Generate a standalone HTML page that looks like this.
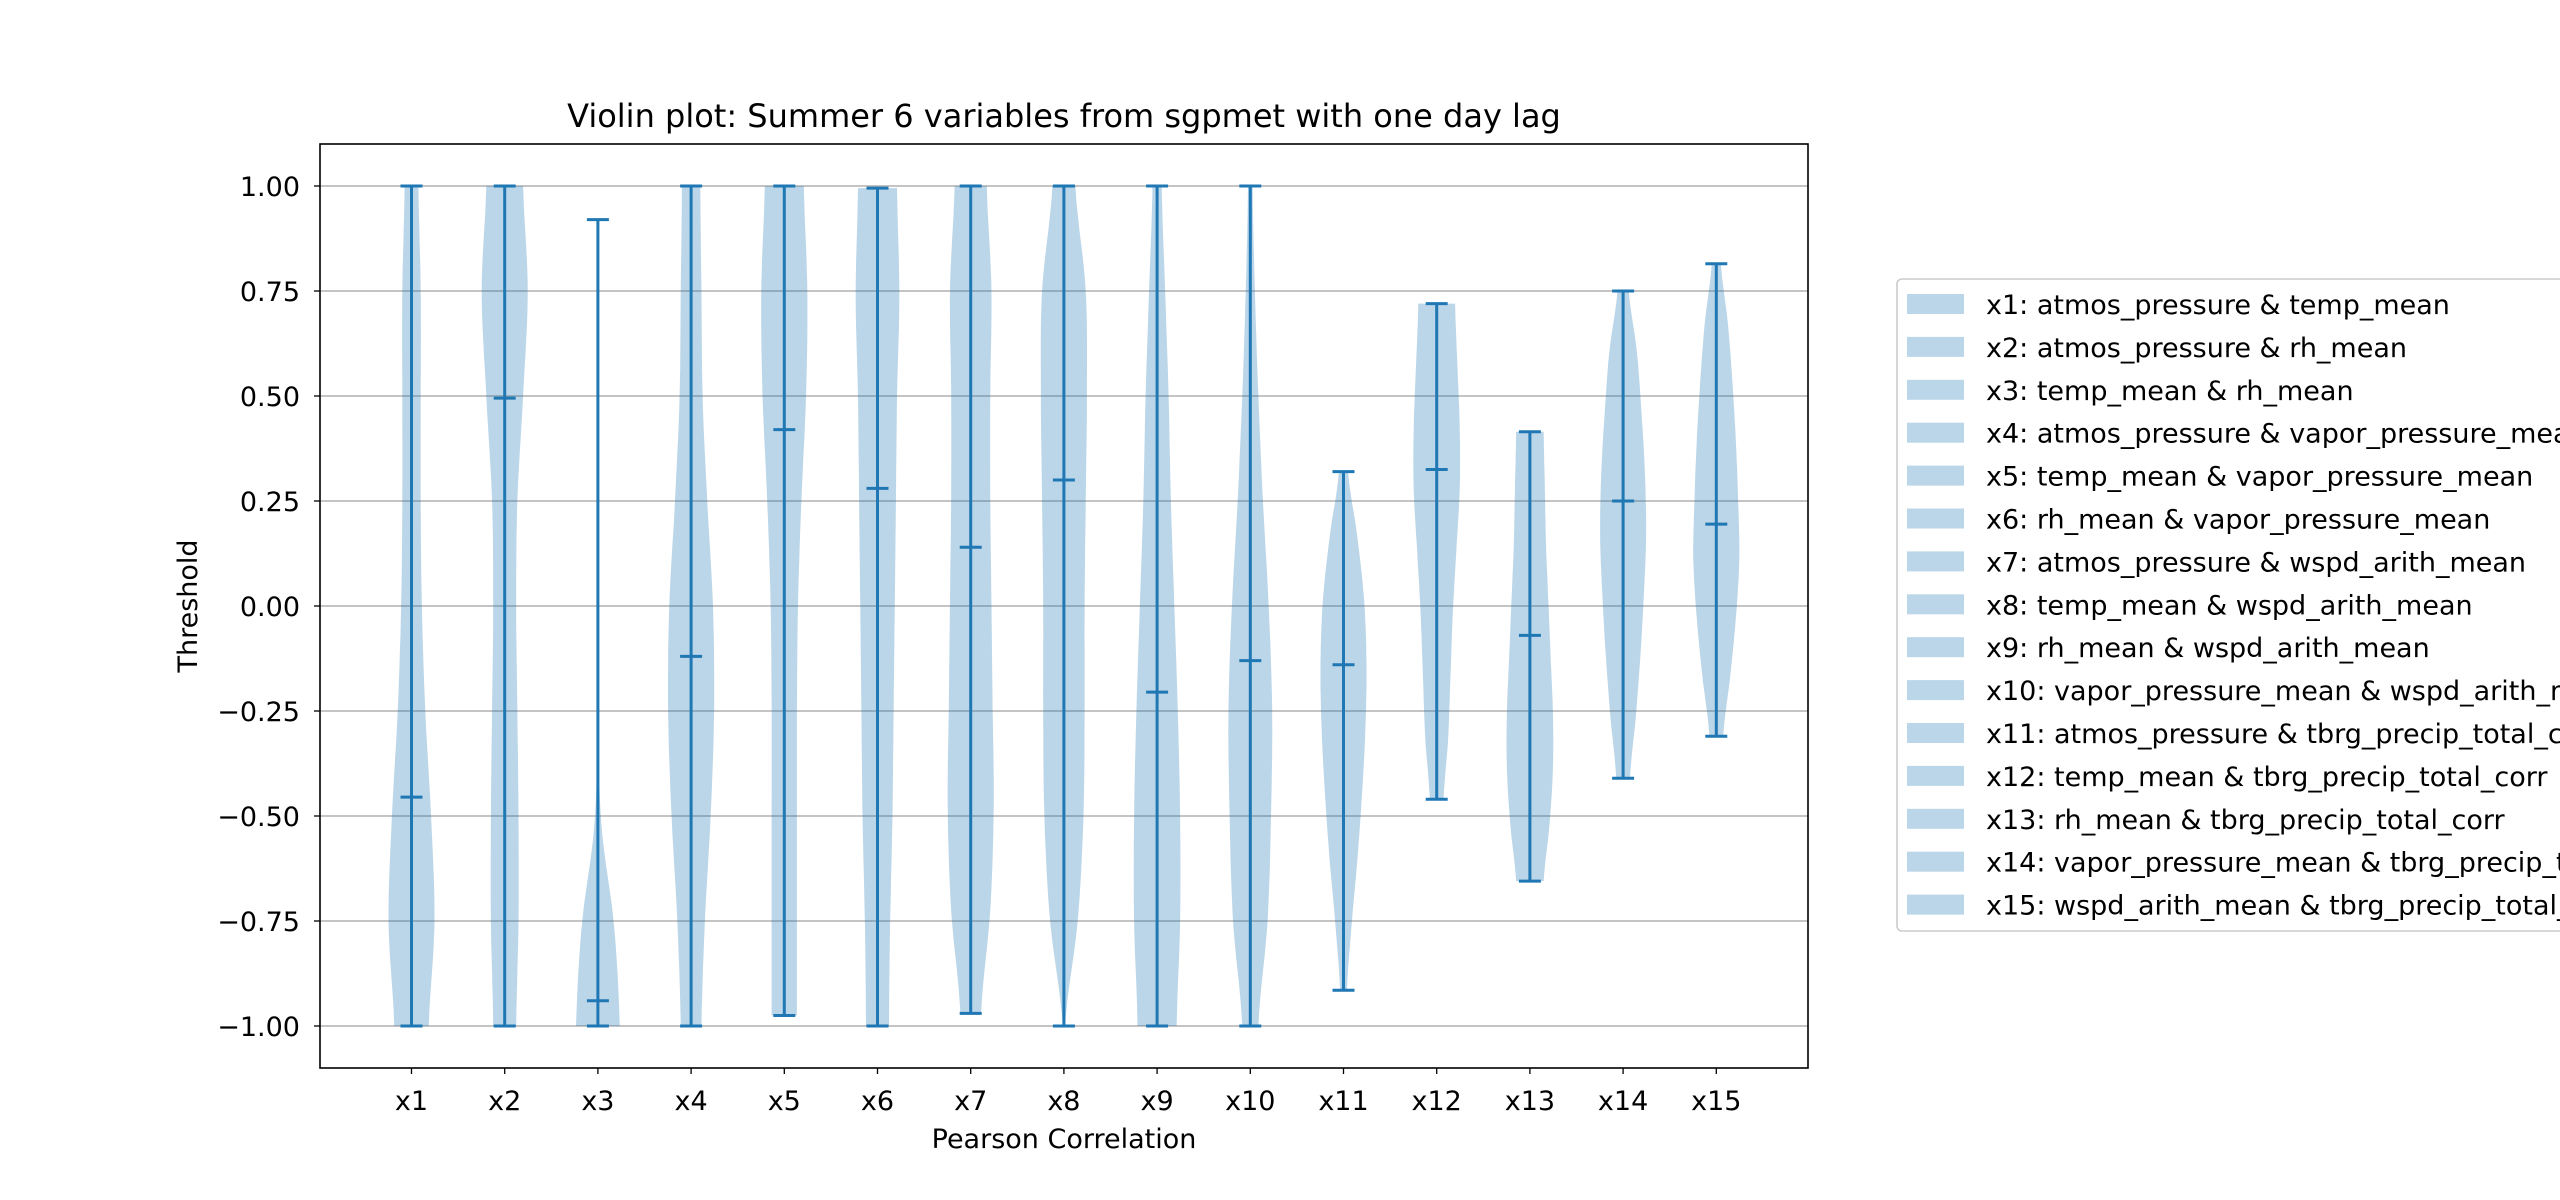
<!DOCTYPE html>
<html><head><meta charset="utf-8"><style>
body{margin:0;background:#fff;}
svg{display:block;font-family:"DejaVu Sans","Liberation Sans",sans-serif;}
</style></head><body>
<svg id="chart" width="2560" height="1200" xmlns="http://www.w3.org/2000/svg">
<rect width="2560" height="1200" fill="#fff"/>
<g id="grid"></g><g id="violins"></g><g id="axes"></g><g id="legend"></g>
</svg>
<script>
const categories=["x1","x2","x3","x4","x5","x6","x7","x8","x9","x10","x11","x12","x13","x14","x15"];
const mins=[-1,-1,-1,-1,-0.975,-1,-0.97,-1,-1,-1,-0.915,-0.46,-0.655,-0.41,-0.31];
const maxs=[1,1,0.92,1,1,0.995,1,1,1,1,0.32,0.72,0.415,0.75,0.815];
const medians=[-0.455,0.495,-0.94,-0.12,0.42,0.28,0.14,0.30,-0.205,-0.13,-0.14,0.325,-0.07,0.25,0.195];
const profiles=[
[0.75,1.0,0.85,0.6,0.45,0.4,0.4,0.4,0.3],
[0.5,0.6,0.6,0.55,0.5,0.55,0.8,1.0,0.8],
[0.95,0.7,0.15,0.03,0.01,0,0,0,0],
[0.45,0.6,0.85,1.0,0.95,0.7,0.5,0.45,0.4],
[0.55,0.55,0.55,0.55,0.6,0.75,0.95,1.0,0.85],
[0.5,0.55,0.65,0.7,0.75,0.8,0.85,0.95,0.85],
[0.45,0.85,1.0,0.95,0.9,0.85,0.85,0.9,0.7],
[0.05,0.6,0.85,0.9,0.9,0.95,1.0,0.95,0.5],
[0.85,1.0,1.0,0.9,0.75,0.6,0.5,0.35,0.2],
[0.35,0.75,0.9,0.95,0.8,0.55,0.35,0.2,0.1],
[0.15,0.35,0.6,0.8,0.95,1.0,0.9,0.6,0.2],
[0.3,0.5,0.6,0.7,0.85,1.0,1.0,0.9,0.8],
[0.6,0.85,1.0,1.0,0.9,0.8,0.7,0.65,0.6],
[0.3,0.55,0.75,0.9,1.0,0.95,0.8,0.6,0.25],
[0.3,0.6,0.85,1.0,0.95,0.85,0.7,0.5,0.2]];
const yTicks=[-1,-0.75,-0.5,-0.25,0,0.25,0.5,0.75,1];
const yTickLabels=["−1.00","−0.75","−0.50","−0.25","0.00","0.25","0.50","0.75","1.00"];
const legendLabels=["x1: atmos_pressure & temp_mean","x2: atmos_pressure & rh_mean","x3: temp_mean & rh_mean","x4: atmos_pressure & vapor_pressure_mean","x5: temp_mean & vapor_pressure_mean","x6: rh_mean & vapor_pressure_mean","x7: atmos_pressure & wspd_arith_mean","x8: temp_mean & wspd_arith_mean","x9: rh_mean & wspd_arith_mean","x10: vapor_pressure_mean & wspd_arith_mean","x11: atmos_pressure & tbrg_precip_total_corr","x12: temp_mean & tbrg_precip_total_corr","x13: rh_mean & tbrg_precip_total_corr","x14: vapor_pressure_mean & tbrg_precip_total_corr","x15: wspd_arith_mean & tbrg_precip_total_corr"];

const NS="http://www.w3.org/2000/svg";
const L=320,R=1808,T=144,B=1068;
const yS=v=>606-v*420;
const xS=i=>411.5+i*93.2;
const HW=23;
const FS=27;
function mk(tag,attrs,parent){const e=document.createElementNS(NS,tag);for(const k in attrs)e.setAttribute(k,attrs[k]);parent.appendChild(e);return e;}
const grid=document.getElementById('grid'),vg=document.getElementById('violins'),ax=document.getElementById('axes'),lg=document.getElementById('legend');

yTicks.forEach((t,i)=>{
 const gl=mk('line',{x1:L,x2:R,y1:yS(t),y2:yS(t),stroke:'#b0b0b0','stroke-width':1.6},grid);
 
 
 const tk=mk('line',{x1:L-6,x2:L,y1:yS(t),y2:yS(t),stroke:'#000','stroke-width':1.3},ax);
 
 
 const tx=mk('text',{x:L-20,y:yS(t)+10,'text-anchor':'end','font-size':FS,fill:'#000'},ax);
 tx.textContent=yTickLabels[i];
 
 
});

function interp(p,f){const n=p.length-1;const x=f*n;const i=Math.min(Math.floor(x),n-1);const t=x-i;
 const p0=p[Math.max(i-1,0)],p1=p[i],p2=p[i+1],p3=p[Math.min(i+2,n)];
 const v=0.5*((2*p1)+(-p0+p2)*t+(2*p0-5*p1+4*p2-p3)*t*t+(-p0+3*p1-3*p2+p3)*t*t*t);return Math.max(v,0);}

categories.forEach((c,i)=>{
 const cx=xS(i),lo=mins[i],hi=maxs[i],prof=profiles[i];
 let right=[],left=[];
 const N=60;
 for(let k=0;k<=N;k++){const f=k/N;const v=lo+(hi-lo)*f;const w=interp(prof,f)*HW;right.push([cx+w,yS(v)]);left.push([cx-w,yS(v)]);}
 const pts=right.concat(left.reverse()).map(p=>p[0].toFixed(1)+','+p[1].toFixed(1)).join(' ');
 const body=mk('polygon',{points:pts,fill:'#1f77b4','fill-opacity':0.3},vg);
 
 
 const st=mk('line',{x1:cx,x2:cx,y1:yS(lo),y2:yS(hi),stroke:'#1f77b4','stroke-width':3},vg);
 
 
 [[lo,'violin-min-cap-'],[hi,'violin-max-cap-'],[medians[i],'violin-median-']].forEach(([v,n])=>{
  const cap=mk('line',{x1:cx-11,x2:cx+11,y1:yS(v),y2:yS(v),stroke:'#1f77b4','stroke-width':3},vg);
  
  
 });
 const tk=mk('line',{x1:cx,x2:cx,y1:B,y2:B+6,stroke:'#000','stroke-width':1.3},ax);
 
 
 const tx=mk('text',{x:cx,y:1110,'text-anchor':'middle','font-size':FS,fill:'#000'},ax);
 tx.textContent=c;
 
 
});

const frame=mk('rect',{x:L,y:T,width:R-L,height:B-T,fill:'none',stroke:'#000','stroke-width':1.6},ax);


const title=mk('text',{x:(L+R)/2,y:127,'text-anchor':'middle','font-size':32,fill:'#000'},ax);
title.textContent='Violin plot: Summer 6 variables from sgpmet with one day lag';


const xl=mk('text',{x:(L+R)/2,y:1148,'text-anchor':'middle','font-size':FS,fill:'#000'},ax);
xl.textContent='Pearson Correlation';


const yl=mk('text',{x:0,y:0,'text-anchor':'middle','font-size':FS,fill:'#000',transform:'translate(197,606) rotate(-90)'},ax);
yl.textContent='Threshold';



const box=mk('rect',{x:1897,y:279,width:700,height:652,rx:5,fill:'#fff','fill-opacity':0.8,stroke:'#ccc','stroke-width':1.6},lg);


legendLabels.forEach((s,i)=>{
 const cy=304+i*42.9;
 const sw=mk('rect',{x:1907,y:cy-10,width:57,height:20,fill:'#1f77b4','fill-opacity':0.3},lg);
 
 
 const t=mk('text',{x:1986,y:cy+10,'font-size':FS,fill:'#000'},lg);
 t.textContent=s;
 
 
});
</script>
</body></html>
